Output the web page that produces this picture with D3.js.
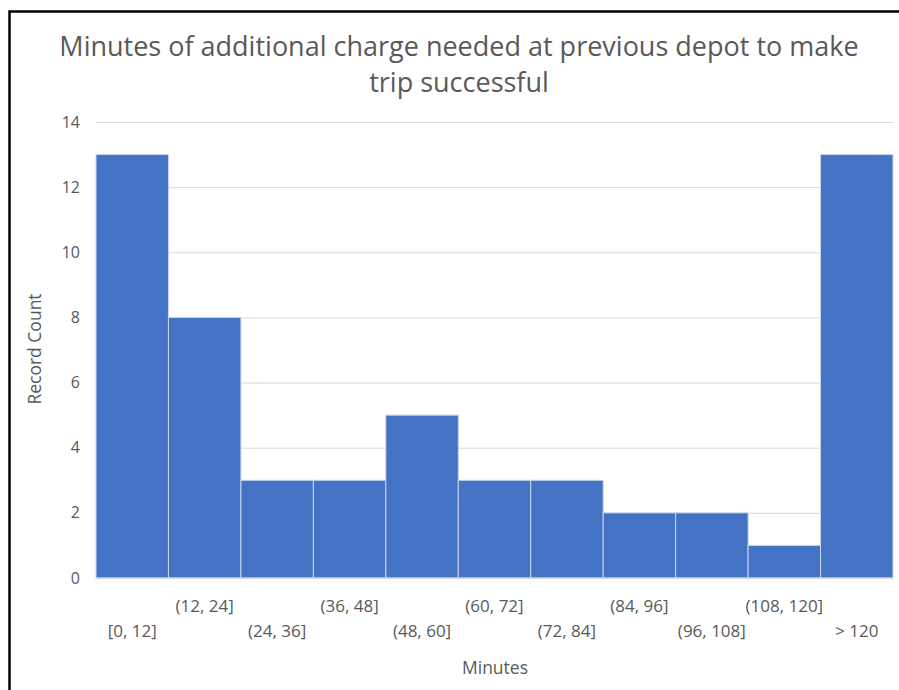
<!DOCTYPE html>
<html><head><meta charset="utf-8">
<script src="https://cdn.jsdelivr.net/npm/d3@7"></script>
<style>body{margin:0;background:#fff;} svg{display:block;}</style>
</head><body>
<script>
const categories = ["[0, 12]","(12, 24]","(24, 36]","(36, 48]","(48, 60]","(60, 72]","(72, 84]","(84, 96]","(96, 108]","(108, 120]","> 120"];
const counts = [13, 8, 3, 3, 5, 3, 3, 2, 2, 1, 13];
const yTicks = [0, 2, 4, 6, 8, 10, 12, 14];
const titleLines = ["Minutes of additional charge needed at previous depot to make", "trip successful"];
const xTitle = "Minutes";
const yTitle = "Record Count";

const W = 899, H = 690;
const font = "'Open Sans', sans-serif";
const svg = d3.select("body").append("svg").attr("width", W).attr("height", H);
svg.append("rect").attr("width", W).attr("height", H).attr("fill", "#fff");

// frame
svg.append("path").attr("d", `M9.5,${H} V11.5 H${W}`).attr("fill","none").attr("stroke","#000").attr("stroke-width",2.5);

const m = {left: 96, right: 6, top: 122, bottom: 112};
const x = d3.scaleBand().domain(categories).range([m.left, W - m.right]).padding(0);
const y = d3.scaleLinear().domain([0, 14]).range([H - m.bottom, m.top]);

// grid
const yAxis = d3.axisLeft(y).tickValues(yTicks).tickSize(-(W - m.right - m.left)).tickPadding(16);
const gy = svg.append("g").attr("transform", `translate(${m.left},0)`).call(yAxis);
gy.select(".domain").remove();
gy.selectAll(".tick line").attr("stroke", "#d9d9d9").attr("stroke-width", 1);
gy.selectAll(".tick text").attr("fill", "#595959").style("font-family", font).style("font-size", "16px");

// bars
svg.append("g").selectAll("rect").data(counts).join("rect")
  .attr("x", (d, i) => x(categories[i]))
  .attr("y", d => y(d))
  .attr("width", x.bandwidth())
  .attr("height", d => y(0) - y(d))
  .attr("fill", "#4472C4")
  .attr("stroke", "#c9d4ea").attr("stroke-width", 1);

// baseline
svg.append("line").attr("x1", m.left).attr("x2", W - m.right).attr("y1", y(0)).attr("y2", y(0))
  .attr("stroke", "#d9d9d9").attr("stroke-width", 1);

// x labels (staggered)
const xAxis = d3.axisBottom(x).tickSize(0).tickPadding(0);
const gx = svg.append("g").attr("transform", `translate(0,${y(0)})`).call(xAxis);
gx.select(".domain").remove();
gx.selectAll(".tick text")
  .attr("y", (d, i) => i % 2 === 1 ? 34 : 59)
  .attr("dy", 0)
  .attr("fill", "#595959").style("font-family", font).style("font-size", "17px");

// titles
svg.append("text").attr("x", 459).attr("y", 56).attr("text-anchor", "middle")
  .attr("fill", "#595959").style("font-family", font).style("font-size", "27px")
  .selectAll("tspan").data(titleLines).join("tspan")
  .attr("x", 459).attr("dy", (d, i) => i === 0 ? 0 : 36).text(d => d);

svg.append("text").attr("x", 495).attr("y", 674).attr("text-anchor", "middle")
  .attr("fill", "#595959").style("font-family", font).style("font-size", "17.5px").text(xTitle);

svg.append("text").attr("transform", `translate(41,349) rotate(-90)`).attr("text-anchor", "middle")
  .attr("fill", "#595959").style("font-family", font).style("font-size", "17.5px").text(yTitle);
</script>
</body></html>
